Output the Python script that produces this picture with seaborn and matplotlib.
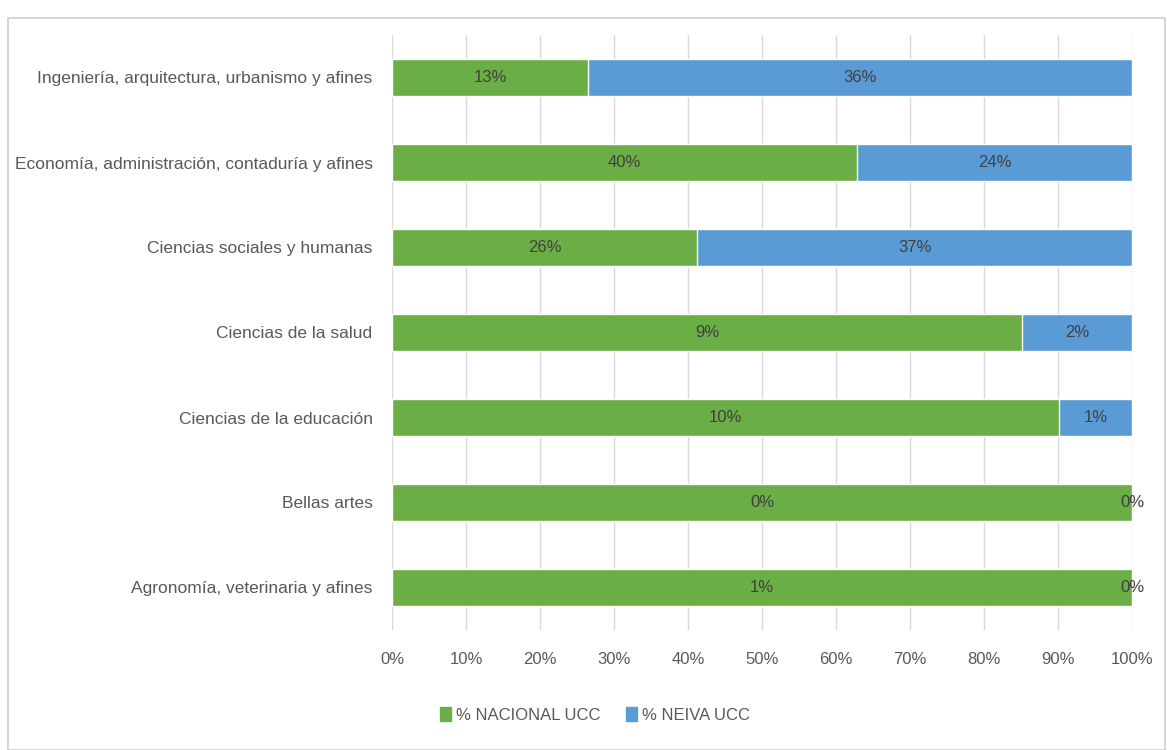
import matplotlib
matplotlib.use('Agg')
import matplotlib.pyplot as plt
import seaborn as sns
import pandas as pd
from matplotlib.patches import Rectangle, Patch

sns.set_style('white')
plt.rcParams['font.family'] = ['Liberation Sans Narrow', 'Liberation Sans', 'DejaVu Sans']

# data (percent of students per area)
areas = [
    'Ingeniería, arquitectura, urbanismo y afines',
    'Economía, administración, contaduría y afines',
    'Ciencias sociales y humanas',
    'Ciencias de la salud',
    'Ciencias de la educación',
    'Bellas artes',
    'Agronomía, veterinaria y afines',
]
nacional = [13.0, 40.4, 26.0, 9.2, 10.0, 0.4, 1.0]
neiva = [36.0, 23.9, 37.0, 1.6, 1.1, 0.0, 0.0]
x_ticks = [0, 10, 20, 30, 40, 50, 60, 70, 80, 90, 100]

green = '#6cae46'
blue = '#5b9bd5'

df = pd.DataFrame({'area': areas, 'nacional': nacional, 'neiva': neiva})
df['total'] = df['nacional'] + df['neiva']
df['share_nac'] = df['nacional'] / df['total'] * 100
df['share_all'] = 100.0

fig = plt.figure(figsize=(11.67, 7.5), dpi=100)
ax = fig.add_axes([392 / 1167, 1 - 630 / 750, 740 / 1167, 595 / 750])

# stacked 100% bars: full bar in blue, green part on top
sns.barplot(data=df, x='share_all', y='area', color=blue, width=0.43,
            saturation=1, ax=ax, orient='h', zorder=3)
sns.barplot(data=df, x='share_nac', y='area', color=green, width=0.43,
            saturation=1, ax=ax, orient='h', zorder=3)

# value labels centred in each segment
for i, row in df.iterrows():
    ax.text(row['share_nac'] / 2, i, f"{row['nacional']:.0f}%", ha='center', va='center',
            fontsize=12, color='#404040', zorder=5)
    mid = row['share_nac'] + (100 - row['share_nac']) / 2
    ax.text(mid, i, f"{row['neiva']:.0f}%", ha='center', va='center',
            fontsize=12, color='#404040', zorder=5)

ax.set_xlim(0, 100)
ax.set_ylim(6.5, -0.5)
ax.set_xticks(x_ticks)
ax.set_xticklabels([f'{t}%' for t in x_ticks])
ax.xaxis.grid(True, color='#d9d9d9', linewidth=1, zorder=0)
ax.set_axisbelow(True)
for s in ax.spines.values():
    s.set_visible(False)
ax.set_xlabel('')
ax.set_ylabel('')
ax.tick_params(axis='x', length=0, pad=16, labelsize=12, labelcolor='#595959')
ax.tick_params(axis='y', length=0, pad=14, labelsize=12.5, labelcolor='#595959')

handles = [Patch(color=green, label='% NACIONAL UCC'), Patch(color=blue, label='% NEIVA UCC')]
fig.legend(handles=handles, loc='center', bbox_to_anchor=(595 / 1167, 1 - 715 / 750), ncol=2,
           frameon=False, fontsize=12, handlelength=0.7, handleheight=0.9, handletextpad=0.3,
           columnspacing=1.5, labelcolor='#595959')

# chart frame
fig.patches.append(Rectangle((8 / 1167, 0), 1157 / 1167, 1 - 18 / 750, transform=fig.transFigure,
                             fill=False, edgecolor='#d0d0d0', linewidth=1.2))

fig.savefig('out.png', dpi=100)
